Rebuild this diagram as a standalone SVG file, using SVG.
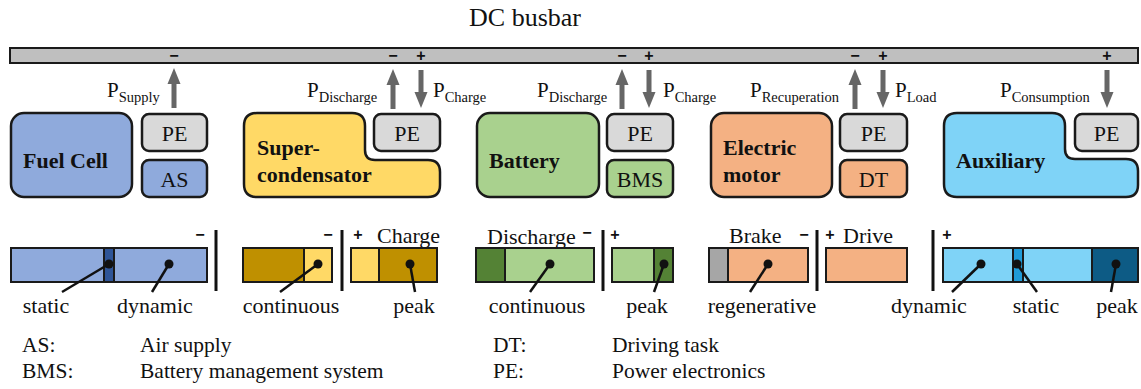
<svg xmlns="http://www.w3.org/2000/svg" xmlns:xlink="http://www.w3.org/1999/xlink" width="1141" height="389" viewBox="0 0 1141 389">
<defs>
<style>
text{font-family:"Liberation Serif","Times New Roman",serif;fill:#111}
.title{font-size:26px}
.lbl{font-size:22px}
.nm{font-size:22px;font-weight:bold}
.pe{font-size:22px;text-anchor:middle}
.pw{font-size:21px}
.sub{font-size:14.5px}
.sg{font-family:"Liberation Sans",Arial,sans-serif;font-size:16px;font-weight:bold;text-anchor:middle}
.cap{font-size:22px;text-anchor:middle}
.leg{font-size:21.5px}
.box{stroke:#1a1a1a;stroke-width:2.5}
.bar{stroke:#1a1a1a;stroke-width:2}
.sep{stroke:#111;stroke-width:3}
.lead{stroke:#111;stroke-width:2.5}
.dot{fill:#111}
.gray{fill:#d9d9d9}
.blue{fill:#8faadc}
.dblue{fill:#2f5597}
.yel{fill:#ffd966}
.gold{fill:#bf9000}
.grn{fill:#a9d18e}
.dgrn{fill:#548235}
.org{fill:#f4b183}
.lgr{fill:#a6a6a6}
.sky{fill:#7fd3f7}
.mblue{fill:#1f9bd8}
.nblue{fill:#0d5b85}
.arr{fill:#666}
</style>
<path id="up" d="M0,0 L6.5,16 L2.5,16 L2.5,40 L-2.5,40 L-2.5,16 L-6.5,16 Z"/>
<path id="down" d="M0,38 L6.5,22 L2.5,22 L2.5,0 L-2.5,0 L-2.5,22 L-6.5,22 Z"/>
</defs>
<rect width="1141" height="389" fill="#fff"/>

<g id="busbar">
<text class="title" x="525" y="26" text-anchor="middle">DC busbar</text>
<rect x="10" y="48" width="1128" height="15" fill="#bfbfbf" class="bar"/>
<text class="sg" x="174" y="61">−</text>
<text class="sg" x="393" y="61">−</text>
<text class="sg" x="421" y="61">+</text>
<text class="sg" x="622" y="61">−</text>
<text class="sg" x="649" y="61">+</text>
<text class="sg" x="855" y="61">−</text>
<text class="sg" x="883" y="61">+</text>
<text class="sg" x="1107" y="61">+</text>
</g>

<g id="connectors">
<use xlink:href="#up" href="#up" class="arr" x="174" y="68"/>
<use xlink:href="#up" href="#up" class="arr" x="393" y="69"/>
<use xlink:href="#down" href="#down" class="arr" x="421" y="70"/>
<use xlink:href="#up" href="#up" class="arr" x="622" y="69"/>
<use xlink:href="#down" href="#down" class="arr" x="649" y="70"/>
<use xlink:href="#up" href="#up" class="arr" x="855" y="69"/>
<use xlink:href="#down" href="#down" class="arr" x="883" y="70"/>
<use xlink:href="#down" href="#down" class="arr" x="1107" y="70"/>
<text class="pw" x="107" y="97">P<tspan class="sub" dy="5">Supply</tspan></text>
<text class="pw" x="307" y="97">P<tspan class="sub" dy="5">Discharge</tspan></text>
<text class="pw" x="433" y="97">P<tspan class="sub" dy="5">Charge</tspan></text>
<text class="pw" x="537" y="97">P<tspan class="sub" dy="5">Discharge</tspan></text>
<text class="pw" x="663" y="97">P<tspan class="sub" dy="5">Charge</tspan></text>
<text class="pw" x="750" y="97">P<tspan class="sub" dy="5">Recuperation</tspan></text>
<text class="pw" x="895" y="97">P<tspan class="sub" dy="5">Load</tspan></text>
<text class="pw" x="1000" y="97">P<tspan class="sub" dy="5">Consumption</tspan></text>
</g>

<g id="fuelcell">
<rect x="11" y="113" width="121" height="84" rx="13" class="box blue"/>
<text class="nm" x="23" y="168">Fuel Cell</text>
<rect x="142" y="114" width="65" height="37" rx="7" class="box gray"/>
<text class="pe" x="174.5" y="141">PE</text>
<rect x="142" y="160" width="65" height="37" rx="7" class="box blue"/>
<text class="pe" x="174.5" y="187">AS</text>
</g>

<g id="supercondensator">
<path d="M244,126 Q244,113 257,113 L352,113 Q365,113 365,126 L365,150 Q365,160 375,160 L428,160 Q440,160 440,172 L440,185 Q440,197 428,197 L257,197 Q244,197 244,184 Z" class="box yel"/>
<text class="nm" x="257" y="155">Super-</text>
<text class="nm" x="257" y="182">condensator</text>
<rect x="374" y="114" width="66" height="37" rx="7" class="box gray"/>
<text class="pe" x="407" y="141">PE</text>
</g>

<g id="battery">
<rect x="477" y="113" width="122" height="84" rx="13" class="box grn"/>
<text class="nm" x="489" y="168">Battery</text>
<rect x="607" y="114" width="66" height="37" rx="7" class="box gray"/>
<text class="pe" x="640" y="141">PE</text>
<rect x="607" y="160" width="66" height="37" rx="7" class="box grn"/>
<text class="pe" x="640" y="187">BMS</text>
</g>

<g id="motor">
<rect x="711" y="113" width="121" height="84" rx="13" class="box org"/>
<text class="nm" x="723" y="155">Electric</text>
<text class="nm" x="723" y="182">motor</text>
<rect x="840" y="114" width="67" height="37" rx="7" class="box gray"/>
<text class="pe" x="873.5" y="141">PE</text>
<rect x="840" y="160" width="67" height="37" rx="7" class="box org"/>
<text class="pe" x="873.5" y="187">DT</text>
</g>

<g id="auxiliary">
<path d="M944,126 Q944,113 957,113 L1052,113 Q1065,113 1065,126 L1065,149 Q1065,159 1075,159 L1126,159 Q1138,159 1138,171 L1138,185 Q1138,197 1126,197 L957,197 Q944,197 944,184 Z" class="box sky"/>
<text class="nm" x="956" y="168">Auxiliary</text>
<rect x="1075" y="114" width="63" height="37" rx="7" class="box gray"/>
<text class="pe" x="1106.5" y="141">PE</text>
</g>

<g id="bar-fuelcell">
<rect x="11" y="248" width="196" height="34" class="bar blue"/>
<rect x="104" y="248" width="10" height="34" class="bar dblue"/>
<text class="sg" x="200" y="240">−</text>
<line x1="216" y1="230" x2="216" y2="291" class="sep"/>
<line x1="109" y1="264" x2="62" y2="292" class="lead"/>
<circle cx="109" cy="264" r="4.5" class="dot"/>
<line x1="169" y1="264" x2="152" y2="292" class="lead"/>
<circle cx="169" cy="264" r="4.5" class="dot"/>
<text class="cap" x="46" y="313">static</text>
<text class="cap" x="155" y="313">dynamic</text>
</g>

<g id="bar-supercondensator">
<rect x="243" y="248" width="89" height="34" class="bar yel"/>
<rect x="243" y="248" width="61" height="34" class="bar gold"/>
<text class="sg" x="328" y="240">−</text>
<line x1="342" y1="230" x2="342" y2="291" class="sep"/>
<text class="sg" x="358" y="240">+</text>
<text class="lbl" x="377" y="243">Charge</text>
<rect x="351" y="248" width="86" height="34" class="bar gold"/>
<rect x="351" y="248" width="28" height="34" class="bar yel"/>
<line x1="318" y1="264" x2="280" y2="292" class="lead"/>
<circle cx="318" cy="264" r="4.5" class="dot"/>
<line x1="410" y1="264" x2="415" y2="292" class="lead"/>
<circle cx="410" cy="264" r="4.5" class="dot"/>
<text class="cap" x="291" y="313">continuous</text>
<text class="cap" x="414" y="313">peak</text>
</g>

<g id="bar-battery">
<text class="lbl" x="487" y="244">Discharge</text>
<rect x="476" y="248" width="118" height="34" class="bar grn"/>
<rect x="476" y="248" width="29" height="34" class="bar dgrn"/>
<text class="sg" x="587" y="238">−</text>
<line x1="603" y1="230" x2="603" y2="291" class="sep"/>
<text class="sg" x="615" y="240">+</text>
<rect x="612" y="248" width="61" height="34" class="bar grn"/>
<rect x="654" y="248" width="19" height="34" class="bar dgrn"/>
<line x1="550" y1="264" x2="530" y2="292" class="lead"/>
<circle cx="550" cy="264" r="4.5" class="dot"/>
<line x1="664" y1="264" x2="654" y2="292" class="lead"/>
<circle cx="664" cy="264" r="4.5" class="dot"/>
<text class="cap" x="537" y="313">continuous</text>
<text class="cap" x="647" y="313">peak</text>
</g>

<g id="bar-motor">
<text class="lbl" x="729" y="243">Brake</text>
<rect x="709" y="248" width="99" height="34" class="bar org"/>
<rect x="709" y="248" width="19" height="34" class="bar lgr"/>
<text class="sg" x="804" y="240">−</text>
<line x1="817" y1="230" x2="817" y2="291" class="sep"/>
<text class="sg" x="830" y="240">+</text>
<text class="lbl" x="843" y="243">Drive</text>
<rect x="826" y="248" width="81" height="34" class="bar org"/>
<line x1="768" y1="264" x2="750" y2="292" class="lead"/>
<circle cx="768" cy="264" r="4.5" class="dot"/>
<text class="cap" x="762" y="313">regenerative</text>
</g>

<g id="bar-auxiliary">
<line x1="933" y1="230" x2="933" y2="291" class="sep"/>
<text class="sg" x="947" y="240">+</text>
<rect x="943" y="248" width="195" height="34" class="bar sky"/>
<rect x="1013" y="248" width="10" height="34" class="bar mblue"/>
<rect x="1092" y="248" width="46" height="34" class="bar nblue"/>
<line x1="981" y1="264" x2="952" y2="292" class="lead"/>
<circle cx="981" cy="264" r="4.5" class="dot"/>
<line x1="1017" y1="264" x2="1037" y2="292" class="lead"/>
<circle cx="1017" cy="264" r="4.5" class="dot"/>
<line x1="1116" y1="264" x2="1111" y2="292" class="lead"/>
<circle cx="1116" cy="264" r="4.5" class="dot"/>
<text class="cap" x="929" y="313">dynamic</text>
<text class="cap" x="1036" y="313">static</text>
<text class="cap" x="1117" y="313">peak</text>
</g>

<g id="legend">
<text class="leg" x="22" y="352">AS:</text>
<text class="leg" x="140" y="352">Air supply</text>
<text class="leg" x="22" y="378">BMS:</text>
<text class="leg" x="140" y="378">Battery management system</text>
<text class="leg" x="493" y="352">DT:</text>
<text class="leg" x="612" y="352">Driving task</text>
<text class="leg" x="493" y="378">PE:</text>
<text class="leg" x="612" y="378">Power electronics</text>
</g>
</svg>
